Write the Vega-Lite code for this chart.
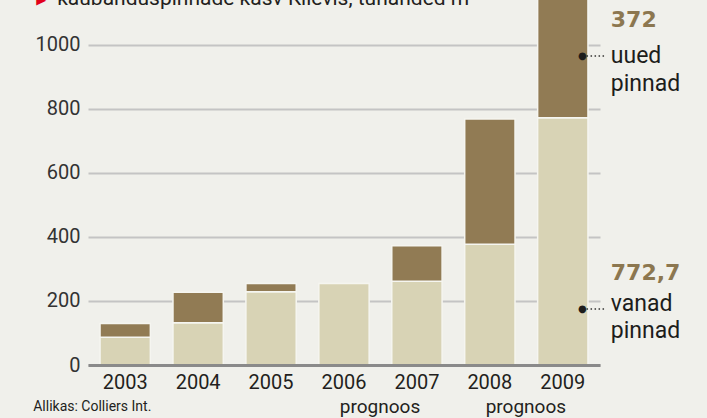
{
  "$schema": "https://vega.github.io/schema/vega-lite/v6.json",
  "width": 512,
  "height": 365,
  "autosize": {"type": "none"},
  "padding": {"left": 88, "top": 0, "right": 107, "bottom": 53},
  "background": "#f0f0eb",
  "config": {"view": {"stroke": null}, "font": "Roboto"},
  "layer": [
    {
      "data": {"values": [
        {"year": "2003", "type": "vanad", "value": 87},
        {"year": "2003", "type": "uued", "value": 43},
        {"year": "2004", "type": "vanad", "value": 132},
        {"year": "2004", "type": "uued", "value": 95},
        {"year": "2005", "type": "vanad", "value": 229},
        {"year": "2005", "type": "uued", "value": 26},
        {"year": "2006", "type": "vanad", "value": 255},
        {"year": "2007", "type": "vanad", "value": 262},
        {"year": "2007", "type": "uued", "value": 111},
        {"year": "2008", "type": "vanad", "value": 377},
        {"year": "2008", "type": "uued", "value": 392},
        {"year": "2009", "type": "vanad", "value": 772.7},
        {"year": "2009", "type": "uued", "value": 372}
      ]},
      "mark": {"type": "bar", "stroke": "#f5f5f0", "strokeWidth": 1.5},
      "encoding": {
        "x": {"field": "year", "type": "nominal", "title": null,
          "scale": {"domain": ["2003","2004","2005","2006","2007","2008","2009"], "paddingInner": 0.31, "paddingOuter": 0.165},
          "axis": {"labelAngle": 0, "labelFont": "Roboto", "labelFontSize": 20, "labelColor": "#231f20", "ticks": false, "domainColor": "#8a8a8a", "domainWidth": 3, "labelPadding": 7, "zindex": 1}},
        "y": {"field": "value", "type": "quantitative", "stack": "zero", "title": null,
          "scale": {"domain": [0, 1140.6], "nice": false},
          "axis": {"values": [0, 200, 400, 600, 800, 1000], "format": "d", "labelFont": "Roboto", "labelFontSize": 20, "labelColor": "#333333", "ticks": false, "domain": false, "gridColor": "#c4c4c4", "gridWidth": 2, "labelPadding": 8}},
        "color": {"field": "type", "type": "nominal", "scale": {"domain": ["vanad", "uued"], "range": ["#d8d3b5", "#917b54"]}, "legend": null},
        "order": {"field": "type", "sort": "descending"}
      }
    },
    {
      "data": {"values": [
        {"year": "2009", "pos": 1078, "label": "372"},
        {"year": "2009", "pos": 287.5, "label": "772,7"}
      ]},
      "mark": {"type": "text", "align": "left", "baseline": "middle", "dx": 48, "font": "DejaVu Sans", "fontWeight": "bold", "fontSize": 22, "color": "#8c7750"},
      "encoding": {
        "x": {"field": "year", "type": "nominal", "title": null, "scale": {"domain": ["2003","2004","2005","2006","2007","2008","2009"]}},
        "y": {"field": "pos", "type": "quantitative", "title": null, "scale": {"domain": [0, 1140.6], "nice": false}},
        "text": {"field": "label"}
      }
    },
    {
      "data": {"values": [
        {"year": "2009", "pos": 944.7, "label": "uued"},
        {"year": "2009", "pos": 856.6, "label": "pinnad"},
        {"year": "2009", "pos": 168.75, "label": "vanad"},
        {"year": "2009", "pos": 84.4, "label": "pinnad"}
      ]},
      "mark": {"type": "text", "align": "left", "baseline": "alphabetic", "dx": 48, "font": "Roboto", "fontSize": 23, "color": "#1d1d1b"},
      "encoding": {
        "x": {"field": "year", "type": "nominal", "title": null, "scale": {"domain": ["2003","2004","2005","2006","2007","2008","2009"]}},
        "y": {"field": "pos", "type": "quantitative", "title": null, "scale": {"domain": [0, 1140.6], "nice": false}},
        "text": {"field": "label"}
      }
    },
    {
      "data": {"values": [
        {"year": "2009", "pos": 965.6},
        {"year": "2009", "pos": 175}
      ]},
      "mark": {"type": "point", "shape": "M1.9,0H3.5", "size": 625, "filled": false, "opacity": 1, "color": "#333333", "strokeWidth": 1.3, "strokeDash": [1.5, 2.5]},
      "encoding": {
        "x": {"field": "year", "type": "nominal", "title": null, "scale": {"domain": ["2003","2004","2005","2006","2007","2008","2009"]}},
        "y": {"field": "pos", "type": "quantitative", "title": null, "scale": {"domain": [0, 1140.6], "nice": false}}
      }
    },
    {
      "data": {"values": [
        {"year": "2009", "pos": 965.6, "label": "●"},
        {"year": "2009", "pos": 175, "label": "●"}
      ]},
      "mark": {"type": "text", "align": "center", "baseline": "middle", "dx": 19.5, "font": "DejaVu Sans", "fontSize": 10, "color": "#1d1d1b"},
      "encoding": {
        "x": {"field": "year", "type": "nominal", "title": null, "scale": {"domain": ["2003","2004","2005","2006","2007","2008","2009"]}},
        "y": {"field": "pos", "type": "quantitative", "title": null, "scale": {"domain": [0, 1140.6], "nice": false}},
        "text": {"field": "label"}
      }
    },
    {
      "data": {"values": [
        {"year": "2006", "pos": -131.25, "label": "prognoos"},
        {"year": "2008", "pos": -131.25, "label": "prognoos"}
      ]},
      "mark": {"type": "text", "align": "center", "baseline": "middle", "dx": 36, "font": "Roboto", "fontSize": 19, "color": "#231f20"},
      "encoding": {
        "x": {"field": "year", "type": "nominal", "title": null, "scale": {"domain": ["2003","2004","2005","2006","2007","2008","2009"]}},
        "y": {"field": "pos", "type": "quantitative", "title": null, "scale": {"domain": [0, 1140.6], "nice": false}},
        "text": {"field": "label"}
      }
    },
    {
      "data": {"values": [
        {"year": "2003", "pos": -131.25, "label": "Allikas: Colliers Int."}
      ]},
      "mark": {"type": "text", "align": "left", "baseline": "middle", "dx": -92, "font": "Roboto", "fontSize": 14, "color": "#231f20"},
      "encoding": {
        "x": {"field": "year", "type": "nominal", "title": null, "scale": {"domain": ["2003","2004","2005","2006","2007","2008","2009"]}},
        "y": {"field": "pos", "type": "quantitative", "title": null, "scale": {"domain": [0, 1140.6], "nice": false}},
        "text": {"field": "label"}
      }
    },
    {
      "data": {"values": [
        {"year": "2003", "pos": 1125, "label": "kaubanduspinnade kasv Kiievis, tuhanded m²"}
      ]},
      "mark": {"type": "text", "align": "left", "baseline": "alphabetic", "dx": -68, "font": "Roboto", "fontSize": 21, "color": "#231f20"},
      "encoding": {
        "x": {"field": "year", "type": "nominal", "title": null, "scale": {"domain": ["2003","2004","2005","2006","2007","2008","2009"]}},
        "y": {"field": "pos", "type": "quantitative", "title": null, "scale": {"domain": [0, 1140.6], "nice": false}},
        "text": {"field": "label"}
      }
    },
    {
      "data": {"values": [
        {"year": "2003", "pos": 1140, "label": "▶"}
      ]},
      "mark": {"type": "text", "align": "center", "baseline": "middle", "dx": -84, "font": "DejaVu Sans", "fontSize": 13, "color": "#e2001a"},
      "encoding": {
        "x": {"field": "year", "type": "nominal", "title": null, "scale": {"domain": ["2003","2004","2005","2006","2007","2008","2009"]}},
        "y": {"field": "pos", "type": "quantitative", "title": null, "scale": {"domain": [0, 1140.6], "nice": false}},
        "text": {"field": "label"}
      }
    }
  ]
}
